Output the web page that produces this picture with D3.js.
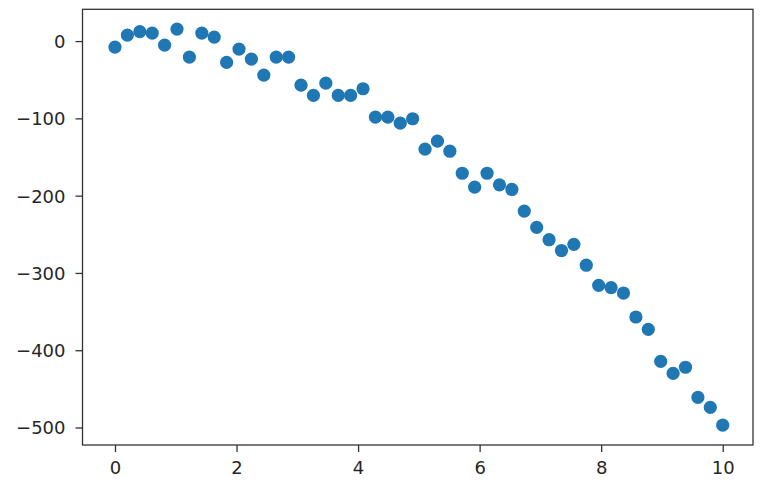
<!DOCTYPE html>
<html>
<head>
<meta charset="utf-8">
<script src="https://cdn.jsdelivr.net/npm/d3@7"></script>
<style>
  html, body { margin: 0; padding: 0; background: #fff; }
  svg { display: block; }
  .tick text { font-family: "DejaVu Sans", sans-serif; font-size: 18px; fill: #262626; }
</style>
</head>
<body>
<svg id="chart" width="766" height="492"></svg>
<script>
// 50 evenly spaced x values from 0 to 10
const xValues = d3.range(50).map(i => i * 10 / 49);
const yValues = [
  -7.8, 7.8, 12.2, 10.4, -5.2, 15.5, -20.7, 10.4, 5.2, -27.6,
  -10.4, -23.3, -44, -20.7, -20.7, -57, -70.3, -54.4, -70.3, -70.3,
  -61.7, -98.4, -98.4, -106.2, -100.5, -139.9, -129.5, -142.5, -171, -189,
  -171, -186, -192, -220, -241, -257, -271, -263, -290, -316,
  -319, -326, -357, -373, -414.5, -430, -422, -461, -474, -497
];
const xTicks = [0, 2, 4, 6, 8, 10];
const yTicks = [0, -100, -200, -300, -400, -500];

const svg = d3.select("#chart");
const mLeft = 82.5, mRight = 753, mTop = 9.3, mBottom = 445;

const xMin = d3.min(xValues), xMax = d3.max(xValues);
const yMin = d3.min(yValues), yMax = d3.max(yValues);
const xPad = (xMax - xMin) * 0.05, yPad = (yMax - yMin) * 0.05;

const x = d3.scaleLinear().domain([xMin - xPad, xMax + xPad]).range([84.6, 753.1]);
const y = d3.scaleLinear().domain([yMin - yPad, yMax + yPad]).range([mBottom, mTop]);

const fmt = d => (d < 0 ? "\u2212" + Math.abs(d) : String(d));

// points
svg.append("g")
  .selectAll("circle")
  .data(xValues.map((d, i) => [d, yValues[i]]))
  .join("circle")
  .attr("cx", d => x(d[0]))
  .attr("cy", d => y(d[1]))
  .attr("r", 6.6)
  .attr("fill", "#1f77b4");

// axes
const xAxis = svg.append("g")
  .attr("transform", `translate(0,${mBottom})`)
  .call(d3.axisBottom(x).tickValues(xTicks).tickFormat(fmt).tickSize(7).tickPadding(9));
const yAxis = svg.append("g")
  .attr("transform", `translate(${mLeft},0)`)
  .call(d3.axisLeft(y).tickValues(yTicks).tickFormat(fmt).tickSize(7).tickPadding(10));

[xAxis, yAxis].forEach(g => {
  g.select(".domain").remove();
  g.selectAll(".tick line").attr("stroke", "#333").attr("stroke-width", 1.3);
});
yAxis.selectAll(".tick text").attr("dy", "0.36em");

// frame (spines)
svg.append("rect")
  .attr("x", mLeft).attr("y", mTop)
  .attr("width", mRight - mLeft).attr("height", mBottom - mTop)
  .attr("fill", "none").attr("stroke", "#333").attr("stroke-width", 1.3);
</script>
</body>
</html>
